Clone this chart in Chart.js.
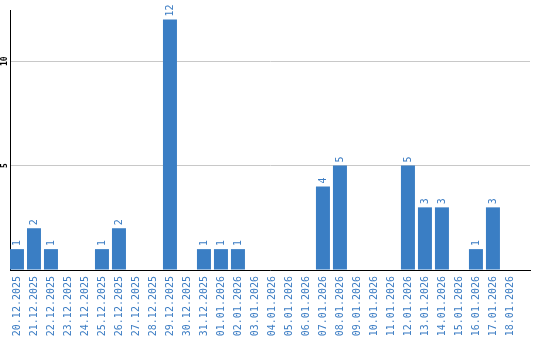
<!DOCTYPE html>
<html><head><meta charset="utf-8">
<script src="https://cdn.jsdelivr.net/npm/chart.js@4"></script>
<style>html,body{margin:0;padding:0;background:#fff}#w{width:540px;height:340px;position:relative}</style>
</head>
<body><div id="w"><canvas id="c"></canvas></div>
<script>
const dates = ["20.12.2025","21.12.2025","22.12.2025","23.12.2025","24.12.2025","25.12.2025","26.12.2025","27.12.2025","28.12.2025","29.12.2025","30.12.2025","31.12.2025","01.01.2026","02.01.2026","03.01.2026","04.01.2026","05.01.2026","06.01.2026","07.01.2026","08.01.2026","09.01.2026","10.01.2026","11.01.2026","12.01.2026","13.01.2026","14.01.2026","15.01.2026","16.01.2026","17.01.2026","18.01.2026"];
const counts = [1,2,1,0,0,1,2,0,0,12,0,1,1,1,0,0,0,0,4,5,0,0,0,5,3,3,0,1,3,0];
const yTicks = [5,10];

const BLUE = '#3a7ec4';
const TEXT = '#3b7cc3';

const labelPlugin = {
  id: 'lbl',
  afterDatasetsDraw(chart) {
    const ctx = chart.ctx;
    const meta = chart.getDatasetMeta(0);
    ctx.save();
    ctx.fillStyle = TEXT;
    ctx.font = '10px "DejaVu Sans Mono"';
    ctx.textAlign = 'left';
    ctx.textBaseline = 'middle';
    meta.data.forEach((bar, i) => {
      const v = counts[i];
      if (!v) return;
      ctx.save();
      ctx.translate(bar.x, bar.y - 3);
      ctx.rotate(-Math.PI / 2);
      ctx.fillText(String(v), 0, 0);
      ctx.restore();
    });
    const ys = chart.scales.y;
    ctx.font = 'bold 8px "DejaVu Sans Mono"';
    ctx.fillStyle = '#000';
    ctx.textAlign = 'center';
    yTicks.forEach(t => {
      ctx.save();
      ctx.translate(5, ys.getPixelForValue(t));
      ctx.rotate(-Math.PI / 2);
      ctx.fillText(String(t), 0, 0);
      ctx.restore();
    });
    ctx.restore();
  }
};

new Chart(document.getElementById('c'), {
  type: 'bar',
  data: {
    datasets: [{
      data: counts.map((v, i) => ({x: i, y: v})),
      backgroundColor: BLUE,
      barPercentage: 14/17,
      categoryPercentage: 1
    }]
  },
  options: {
    responsive: true,
    maintainAspectRatio: false,
    animation: false,
    layout: {padding: {top: 10, right: 10, left: 0, bottom: 0}},
    plugins: {legend: {display: false}, tooltip: {enabled: false}},
    scales: {
      x: {
        type: 'linear',
        offset: false,
        min: -0.41,
        max: 30.18,
        afterBuildTicks: s => { s.ticks = dates.map((d, i) => ({value: i})); },
        ticks: {
          callback: v => dates[v] ?? '',
          color: TEXT,
          font: {family: 'DejaVu Sans Mono', size: 10},
          minRotation: 90, maxRotation: 90,
          padding: 6,
          autoSkip: false
        },
        grid: {display: false, drawTicks: false, offset: false},
        border: {color: '#000', width: 1},
        afterFit: s => { s.height = 70; }
      },
      y: {
        min: 0,
        max: 12.45,
        afterBuildTicks: s => { s.ticks = [0, ...yTicks].map(v => ({value: v})); },
        ticks: {display: false},
        grid: {color: '#c8c8c8', drawTicks: false},
        border: {color: '#000', width: 1},
        afterFit: s => { s.width = 10; }
      }
    }
  },
  plugins: [labelPlugin]
});
</script>
</body></html>
